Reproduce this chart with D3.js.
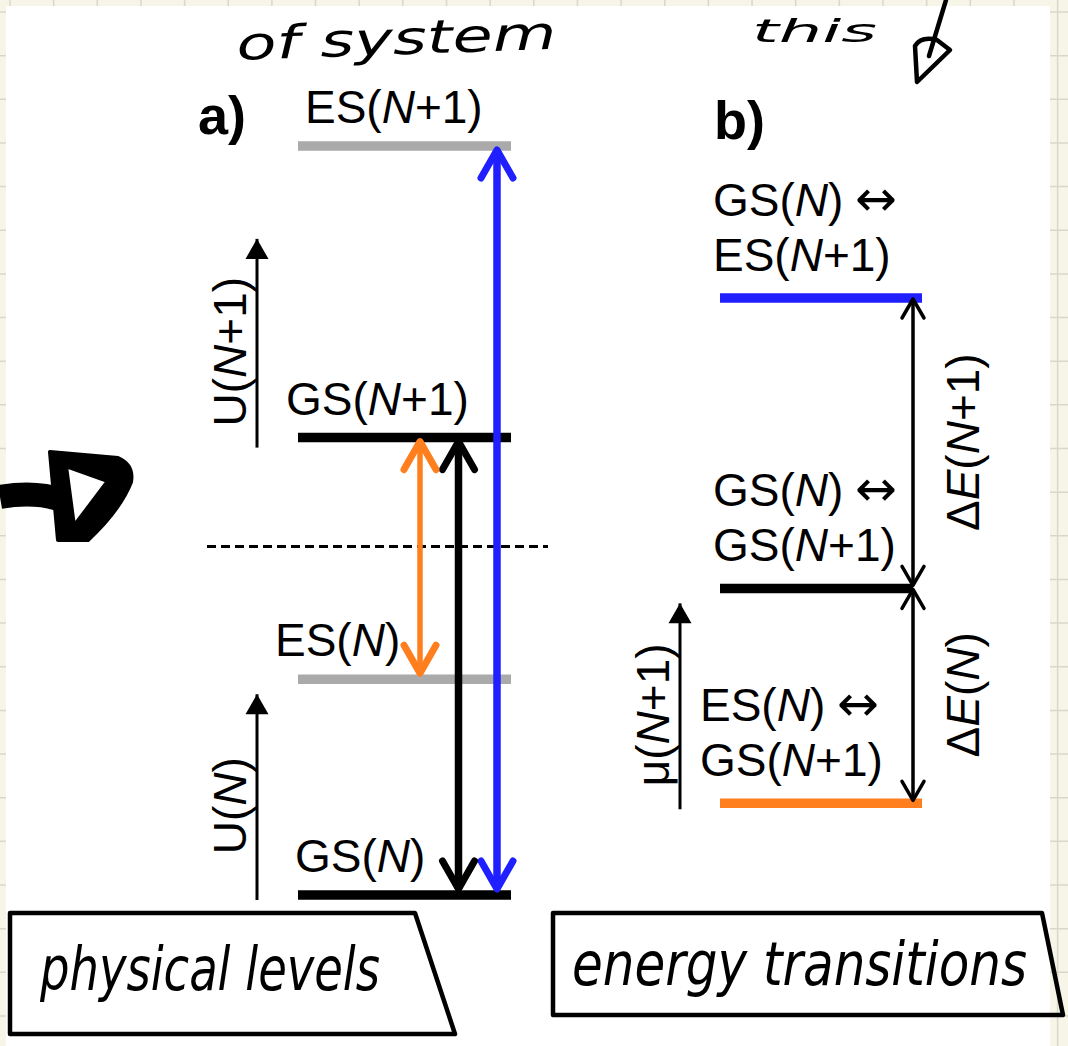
<!DOCTYPE html>
<html>
<head>
<meta charset="utf-8">
<script src="https://cdn.jsdelivr.net/npm/d3@7"></script>
<style>
  body { margin: 0; background: #f7f5e8; }
  svg { display: block; }
  text { font-family: "Liberation Sans", Arial, sans-serif; fill: #000; }
  .hand { font-family: "DejaVu Sans Condensed", "DejaVu Sans", sans-serif; font-style: oblique; }
</style>
</head>
<body>
<div class="canvas"></div>
<script>
// physical levels (panel a), energies in arbitrary units
const levels = ["GS(N)", "ES(N)", "GS(N+1)", "ES(N+1)"];
const levelEnergy = [0, 2.16, 4.58, 7.5];
const midEnergy = 3.49; // dashed line

// energy transitions (panel b)
const transFrom = ["GS(N)", "GS(N)", "ES(N)"];
const transTo = ["ES(N+1)", "GS(N+1)", "GS(N+1)"];
const gapLabels = ["ΔE(N+1)", "ΔE(N)"];

// vertical "ladder" arrows: U(N), U(N+1) in a, μ(N+1) in b
const ladderLabels = ["U(N)", "U(N+1)", "μ(N+1)"];
const ladderFrom = [-0.05, 4.48, 2.36];
const ladderTo = [2.02, 6.58, 4.44];

const W = 1068, H = 1046;
const transColor = ["#1f1fff", "#000000", "#ff7f1e"];
const levelColor = (name) => (name.startsWith("GS") ? "#000000" : "#aaaaaa");
const levelLabelX = [295, 275, 286, 305];

const svg = d3.select(".canvas").append("svg").attr("width", W).attr("height", H);

// notebook page background
svg.append("rect").attr("width", W).attr("height", H).attr("fill", "#f7f5e8");
const grid = svg.append("g").attr("stroke", "#d8d7ca").attr("stroke-width", 1.5);
d3.range(10, W, 43.65).forEach((x) =>
  grid.append("line").attr("x1", x).attr("x2", x).attr("y1", 0).attr("y2", H)
);
d3.range(12, H, 43.65).forEach((y) =>
  grid.append("line").attr("x1", 0).attr("x2", W).attr("y1", y).attr("y2", y)
);
svg.append("rect").attr("x", 6).attr("y", 6).attr("width", 1044).attr("height", H).attr("fill", "#fff");

// scales
const yA = d3.scaleLinear().domain([0, 7.5]).range([895, 146]);
const yB = d3.scaleLinear().domain([0, 7.5]).range([1044, 298]);
const xA = d3.scalePoint().domain([2, 1, 0]).range([420, 497]);

const energyOf = (name) => levelEnergy[levels.indexOf(name)];
const transEnergy = transFrom.map((f, i) => energyOf(transTo[i]) - energyOf(f));

// text with italic N and E, wider double arrow
function rich(sel, str) {
  str.split(/(N|ΔE| ↔)/).forEach((part) => {
    if (!part) return;
    if (part === "N") sel.append("tspan").attr("font-style", "italic").text("N");
    else if (part === "ΔE") {
      sel.append("tspan").text("Δ");
      sel.append("tspan").attr("font-style", "italic").text("E");
    } else if (part === " ↔") {
      sel.append("tspan").attr("font-family", "DejaVu Sans").attr("font-size", 50)
        .attr("dx", 12).text("↔");
    } else sel.append("tspan").text(part);
  });
  return sel;
}

// markers
const defs = svg.append("defs");
function chevron(id, color, len, half, sw) {
  defs.append("marker")
    .attr("id", id)
    .attr("markerUnits", "userSpaceOnUse")
    .attr("orient", "auto-start-reverse")
    .attr("markerWidth", 100).attr("markerHeight", 100)
    .attr("refX", 0).attr("refY", 0)
    .attr("viewBox", "-50 -50 100 100")
    .append("path")
    .attr("d", `M${-len},${-half}L0,0L${-len},${half}`)
    .attr("fill", "none").attr("stroke", color).attr("stroke-width", sw)
    .attr("stroke-linecap", "round").attr("stroke-linejoin", "round");
}
transColor.forEach((c, i) => chevron("chev" + i, c, 28, 16, 7));
chevron("chevB", "#000", 19, 11, 3.5);
defs.append("marker")
  .attr("id", "tri").attr("markerUnits", "userSpaceOnUse").attr("orient", "auto")
  .attr("markerWidth", 60).attr("markerHeight", 60).attr("viewBox", "-30 -30 60 60")
  .append("path").attr("d", "M-20,-11.5L0,0L-20,11.5Z").attr("fill", "#000");

const fs = 46;

// ---------- panel a ----------
const gA = svg.append("g");
gA.append("text").attr("x", 198).attr("y", 134).attr("font-size", 54).attr("font-weight", "bold").text("a)");

gA.append("line")
  .attr("x1", 207).attr("x2", 548)
  .attr("y1", yA(midEnergy)).attr("y2", yA(midEnergy))
  .attr("stroke", "#000").attr("stroke-width", 3).attr("stroke-dasharray", "9,5");

levels.forEach((name, i) => {
  gA.append("line")
    .attr("x1", 298).attr("x2", 511)
    .attr("y1", yA(levelEnergy[i])).attr("y2", yA(levelEnergy[i]))
    .attr("stroke", levelColor(name)).attr("stroke-width", 9.5);
  rich(gA.append("text").attr("x", levelLabelX[i]).attr("y", yA(levelEnergy[i]) - 23).attr("font-size", fs), name);
});

transFrom.forEach((f, i) => {
  const y1 = yA(energyOf(f)) - 6;
  const y2 = yA(energyOf(transTo[i])) + 4;
  gA.append("line")
    .attr("x1", xA(i)).attr("x2", xA(i))
    .attr("y1", y1).attr("y2", y2)
    .attr("stroke", transColor[i]).attr("stroke-width", i === 2 ? 5.5 : 7.5)
    .attr("marker-start", `url(#chev${i})`).attr("marker-end", `url(#chev${i})`);
});

// ---------- panel b ----------
const gB = svg.append("g");
gB.append("text").attr("x", 714).attr("y", 139).attr("font-size", 54).attr("font-weight", "bold").text("b)");

const arrowBX = 913;
transFrom.forEach((f, i) => {
  const y = yB(transEnergy[i]);
  gB.append("line")
    .attr("x1", 720).attr("x2", i === 1 ? arrowBX : 922)
    .attr("y1", y).attr("y2", y)
    .attr("stroke", transColor[i]).attr("stroke-width", 9.5);
  const lx = i === 2 ? 700 : 713;
  rich(gB.append("text").attr("x", lx).attr("y", y - 82).attr("font-size", fs), f + " ↔");
  rich(gB.append("text").attr("x", lx).attr("y", y - 27).attr("font-size", fs), transTo[i]);
});

// gap arrows between consecutive transitions
gapLabels.forEach((lab, i) => {
  const yTop = yB(transEnergy[i]) + 1;
  const yBot = yB(transEnergy[i + 1]) - 3;
  gB.append("line")
    .attr("x1", arrowBX).attr("x2", arrowBX).attr("y1", yBot).attr("y2", yTop)
    .attr("stroke", "#000").attr("stroke-width", 3.5)
    .attr("marker-start", "url(#chevB)").attr("marker-end", "url(#chevB)");
  rich(
    gB.append("text")
      .attr("transform", `translate(${arrowBX + 50},${(yTop + yBot) / 2}) rotate(-90)`)
      .attr("text-anchor", "middle").attr("dy", "0.35em").attr("font-size", fs),
    lab
  );
});

// ladder arrows with rotated labels
ladderLabels.forEach((lab, i) => {
  const y = i < 2 ? yA : yB;
  const x = i < 2 ? 257 : 680;
  const y1 = y(ladderFrom[i]), y2 = y(ladderTo[i]);
  const g = i < 2 ? gA : gB;
  g.append("line")
    .attr("x1", x).attr("x2", x).attr("y1", y1).attr("y2", y2 + 1)
    .attr("stroke", "#000").attr("stroke-width", 3)
    .attr("marker-end", "url(#tri)");
  rich(
    g.append("text")
      .attr("transform", `translate(${x - 27},${(y1 + y2) / 2 + 9}) rotate(-90)`)
      .attr("text-anchor", "middle").attr("dy", "0.35em").attr("font-size", fs),
    lab
  );
});

// ---------- handwritten notes ----------
const hand = svg.append("g");
hand.append("text").attr("class", "hand")
  .attr("transform", "translate(237,60) rotate(-2)")
  .attr("font-size", 46).attr("textLength", 320).attr("lengthAdjust", "spacingAndGlyphs")
  .text("of system");
hand.append("text").attr("class", "hand")
  .attr("x", 752).attr("y", 42).attr("font-size", 32)
  .attr("textLength", 125).attr("lengthAdjust", "spacingAndGlyphs")
  .text("this");

// pointer on the right
hand.append("path").attr("d", "M946,0L929,56").attr("stroke", "#000").attr("stroke-width", 4.5).attr("fill", "none").attr("stroke-linecap", "round");
hand.append("path").attr("d", "M917,82L915,46Q921,36 937,40L950,50Z")
  .attr("fill", "none").attr("stroke", "#000").attr("stroke-width", 4.5).attr("stroke-linejoin", "round");

// big arrow on the left
hand.append("path").attr("d", "M0,497Q35,491 62,500").attr("stroke", "#000").attr("stroke-width", 24).attr("fill", "none");
hand.append("path")
  .attr("d", "M50,452L118,458Q134,465 131,482Q120,510 88,540L58,540Z M66,466L108,481L74,526Z")
  .attr("fill", "#000").attr("fill-rule", "evenodd")
  .attr("stroke", "#000").attr("stroke-width", 4).attr("stroke-linejoin", "round");

// captions in boxes
const boxes = [
  { pts: [[10, 913], [415, 913], [455, 1034], [10, 1034]], text: "physical levels", x: 40, y: 990, len: 340 },
  { pts: [[553, 913], [1042, 913], [1063, 1015], [553, 1015]], text: "energy transitions", x: 572, y: 985, len: 455 },
];
boxes.forEach((b) => {
  hand.append("path").attr("d", d3.line()(b.pts) + "Z")
    .attr("fill", "none").attr("stroke", "#000").attr("stroke-width", 4.5).attr("stroke-linejoin", "round");
  hand.append("text").attr("class", "hand")
    .attr("x", b.x).attr("y", b.y).attr("font-size", 60)
    .attr("textLength", b.len).attr("lengthAdjust", "spacingAndGlyphs")
    .text(b.text);
});
</script>
</body>
</html>
